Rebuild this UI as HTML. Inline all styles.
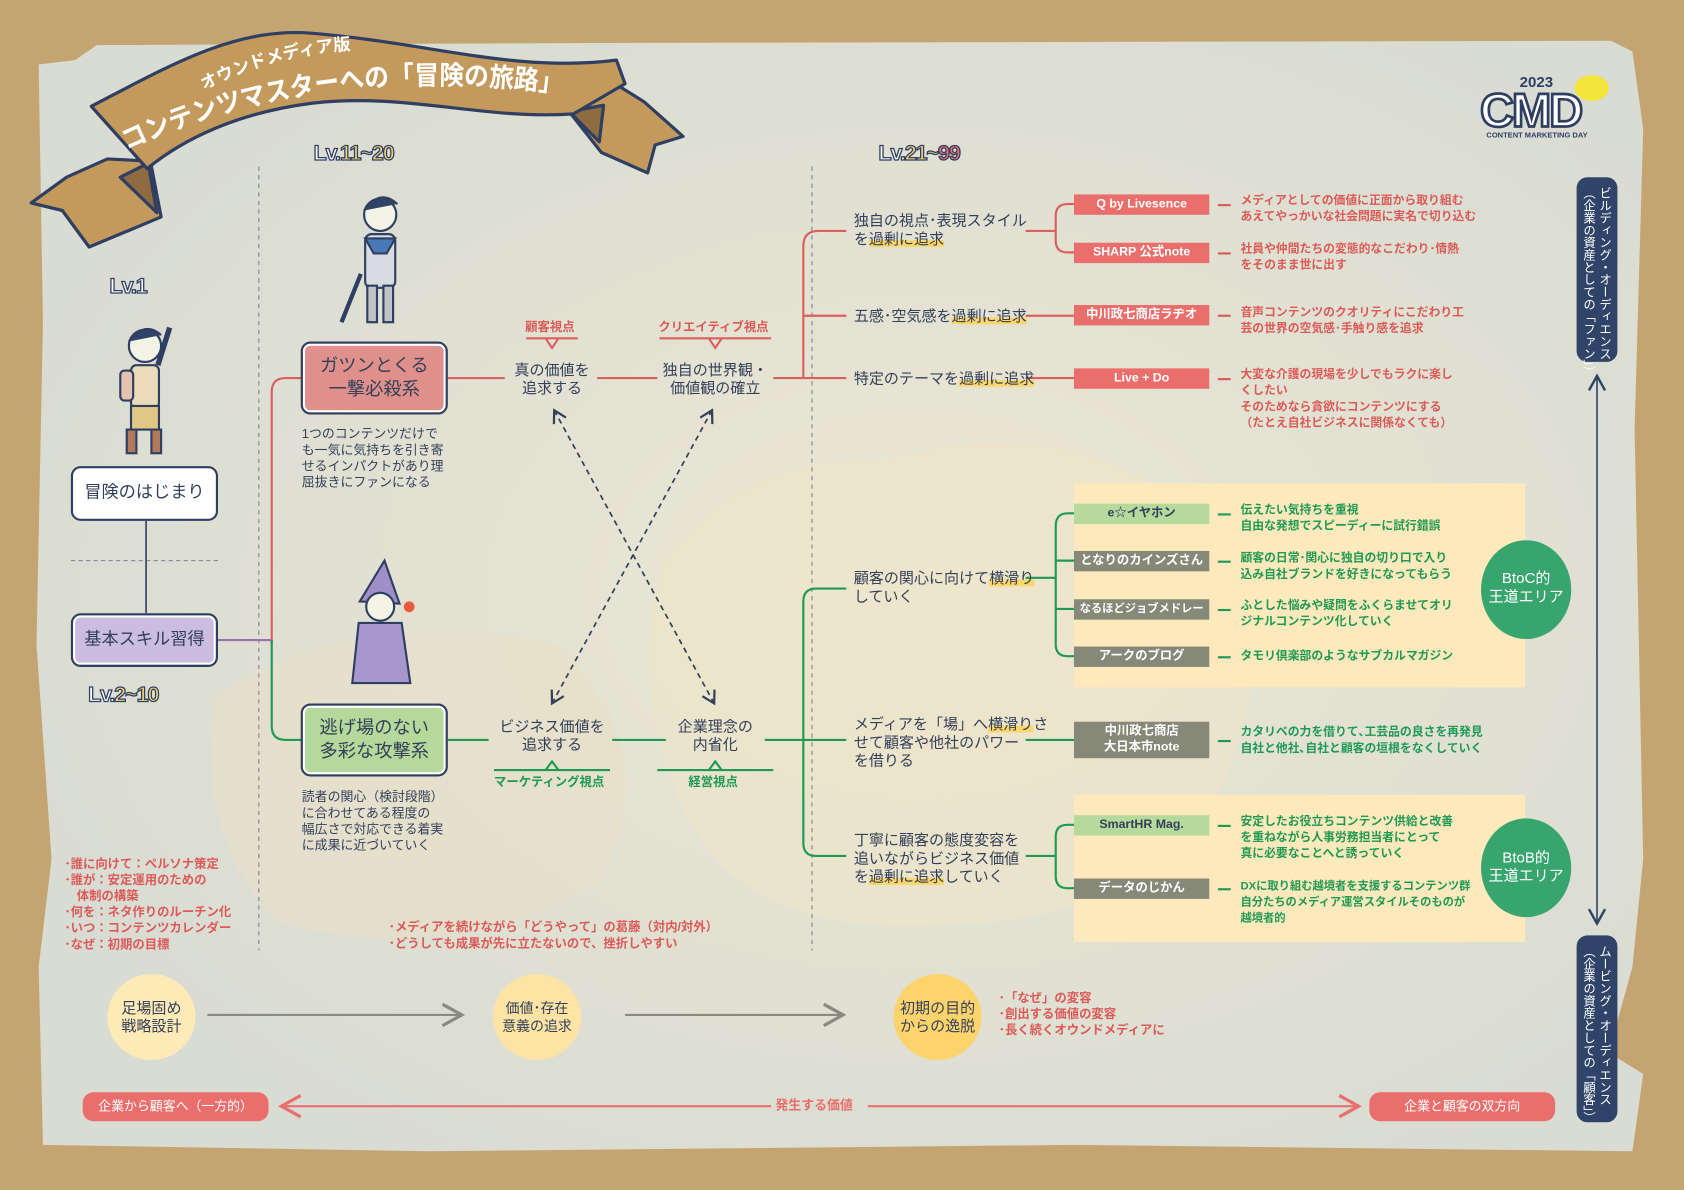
<!DOCTYPE html>
<html><head><meta charset="utf-8"><style>
*{margin:0;padding:0;box-sizing:border-box}
html,body{width:1684px;height:1190px;overflow:hidden;background:#c4a572}
#w{position:absolute;left:0;top:0;width:1568px;height:1108px;transform:scale(1.07398);transform-origin:0 0;font-family:"Liberation Sans","Noto Sans CJK JP",sans-serif;color:#34405a}
.a{position:absolute}
.t{position:absolute;white-space:nowrap;line-height:1.25}
.box{position:absolute;border:2px solid #2f3f62;border-radius:9px;box-shadow:inset 0 0 0 2px #fff;display:flex;align-items:center;justify-content:center;text-align:center;font-size:17px;line-height:1.3;color:#34405a}
.tag{position:absolute;left:1000px;width:126px;height:19px;color:#fff;font-size:11.5px;font-weight:bold;text-align:center;line-height:19px;white-space:nowrap;overflow:hidden}
.r{background:#ea6f6c}.g{background:#868878}.lg{background:#b6d99c;color:#34405a}
.d{position:absolute;left:1155px;font-size:11px;font-weight:bold;line-height:15px;white-space:nowrap}
.dr{color:#dc5a58}.dg{color:#1f9a55}
.dash{position:absolute;left:1134px;width:12px;height:2px}
.node{position:absolute;font-size:14px;text-align:center;line-height:17px;white-space:nowrap}
.rt{position:absolute;left:795px;font-size:14px;line-height:17px;white-space:nowrap}
.hl{background:linear-gradient(transparent 60%,#fbd66a 60%)}
.lv{position:absolute;font-weight:900;font-size:20px;color:#fff;-webkit-text-stroke:1.2px #2f3f62;letter-spacing:-1px}
.lv b{color:#f6d777}
</style></head><body><div id="w">
<svg class="a" style="left:0;top:0" width="1568" height="1108">
<defs>
<radialGradient id="pg" cx="55%" cy="50%" r="60%"><stop offset="0" stop-color="#ece7d2"/><stop offset="1" stop-color="#d9dcd3"/></radialGradient>
<marker id="ar" markerWidth="10" markerHeight="10" refX="8" refY="5" orient="auto-start-reverse"><path d="M1,1 L8,5 L1,9" fill="none" stroke="#34405a" stroke-width="1.3"/></marker>
<marker id="ag" markerWidth="12" markerHeight="12" refX="10" refY="6" orient="auto-start-reverse"><path d="M1,1 L10,6 L1,11" fill="none" stroke="#8a8a80" stroke-width="1.5"/></marker>
<marker id="arr" markerWidth="12" markerHeight="12" refX="10" refY="6" orient="auto-start-reverse"><path d="M1,1 L10,6 L1,11" fill="none" stroke="#e8706c" stroke-width="1.5"/></marker>
<marker id="an" markerWidth="12" markerHeight="12" refX="10" refY="6" orient="auto-start-reverse"><path d="M1,1 L10,6 L1,11" fill="none" stroke="#2f4468" stroke-width="1.5"/></marker>
<path id="tp1" d="M190,84 Q265,45 352,46"/>
<path id="tp2" d="M118,140 Q300,55 535,88"/>
</defs>
<path d="M36,60 L70,56 L90,42 L560,40 L1500,38 L1520,48 L1530,120 L1522,400 L1530,800 L1520,900 L1498,980 L1530,1000 L1520,1072 L1000,1066 L400,1072 L40,1066 L36,900 L48,800 L34,600 L40,300 Z" fill="url(#pg)"/>
<path d="M620,520 Q700,420 820,430 Q980,380 1100,470 Q1200,560 1150,700 Q1100,850 900,860 Q700,880 640,760 Q580,640 620,520Z" fill="#efe5c6" opacity=".55"/>
<path d="M200,650 Q330,560 520,600 Q620,700 560,820 Q420,900 260,860 Q180,780 200,650Z" fill="#e9e0c5" opacity=".5"/>
<!-- banner -->
<g stroke="#2f3f62" stroke-width="3" stroke-linejoin="round">
<path d="M100,148 L62,165 L29,189 L58,196 L83,230 L150,202 L140,150 Z" fill="#c49a5c"/>
<path d="M112,165 L138,152 L146,198 Z" fill="#8f6c40"/>
<path d="M560,70 L600,95 L636,127 L610,135 L603,161 L560,142 L530,104 Z" fill="#c49a5c"/>
<path d="M530,104 L562,98 L558,132 Z" fill="#8f6c40"/>
<path d="M85,99 C160,60 220,25 291,31 C400,40 480,68 574,56 L582,78 L534,106 C450,112 380,86 291,96 C220,105 170,130 137,157 Z" fill="#c49a5c"/>
</g>
<text font-size="16" fill="#fff" font-weight="bold"><textPath href="#tp1">オウンドメディア版</textPath></text>
<text font-size="25" fill="#fff" font-weight="bold" textLength="415" lengthAdjust="spacingAndGlyphs"><textPath href="#tp2" textLength="415" lengthAdjust="spacingAndGlyphs">コンテンツマスターへの「冒険の旅路」</textPath></text>
<line x1="241" y1="155" x2="241" y2="885" stroke="#7b8290" stroke-dasharray="4,4"/>
<line x1="756" y1="155" x2="756" y2="885" stroke="#7b8290" stroke-dasharray="4,4"/>
<line x1="66" y1="522" x2="203" y2="522" stroke="#7b8290" stroke-dasharray="4,3"/>
<line x1="136" y1="485" x2="136" y2="571" stroke="#2f3f62" stroke-width="1.5"/>
<line x1="203" y1="596" x2="253" y2="596" stroke="#9b6fb0" stroke-width="2"/>
<g fill="none" stroke="#db5f5d" stroke-width="2">
<path d="M253,600 L253,365 Q253,352 266,352 L282,352"/>
<line x1="417" y1="352" x2="470" y2="352"/><line x1="556" y1="352" x2="612" y2="352"/><line x1="720" y1="352" x2="748" y2="352"/>
<path d="M762,215 Q748,215 748,229 L748,352 L788,352 M748,294 L788,294 M762,215 L788,215"/>
<path d="M955,215 L983,215 M1000,190 L994,190 Q983,190 983,201 L983,224 Q983,235 994,235 L1000,235"/>
<line x1="955" y1="294" x2="1000" y2="294"/><line x1="955" y1="352" x2="1000" y2="352"/>
<path d="M490,315 L538,315 M508,315 L514,324 L520,315 M614,315 L718,315 M660,315 L666,324 L672,315"/>
</g>
<g fill="none" stroke="#1f9a55" stroke-width="2">
<path d="M253,596 L253,676 Q253,689 266,689 L282,689"/>
<line x1="417" y1="689" x2="455" y2="689"/><line x1="570" y1="689" x2="620" y2="689"/><line x1="712" y1="689" x2="788" y2="689"/>
<path d="M788,548 L760,548 Q748,548 748,560 L748,785 Q748,797 760,797 L788,797"/>
<path d="M460,717 L568,717 M508,717 L514,709 L520,717 M612,717 L720,717 M660,717 L666,709 L672,717"/>
</g>
<g stroke="#34405a" stroke-width="1.6" stroke-dasharray="5,4" fill="none" marker-start="url(#ar)" marker-end="url(#ar)">
<line x1="665" y1="655" x2="516" y2="382"/>
<line x1="514" y1="655" x2="663" y2="382"/>
</g>
<rect x="1000" y="450" width="420" height="190" fill="#fde9bb"/>
<rect x="1000" y="740" width="420" height="137" fill="#fde9bb"/>
<g fill="none" stroke="#1f9a55" stroke-width="2">
<path d="M955,538 L983,538 M1000,478 L994,478 Q983,478 983,490 L983,600 Q983,611 994,611 L1000,611 M983,522 L1000,522 M983,567 L1000,567"/>
<line x1="955" y1="689" x2="1000" y2="689"/>
<path d="M955,797 L983,797 M1000,768 L994,768 Q983,768 983,779 L983,816 Q983,827 994,827 L1000,827"/>
</g>
<ellipse cx="1421" cy="549" rx="42" ry="46" fill="#38a56e"/>
<ellipse cx="1421" cy="808" rx="42" ry="46" fill="#38a56e"/>
<line x1="1487" y1="350" x2="1487" y2="860" stroke="#2f4468" stroke-width="1.5" marker-start="url(#an)" marker-end="url(#an)"/>
<rect x="1468" y="165" width="38" height="172" rx="10" fill="#2f4468"/>
<rect x="1468" y="871" width="38" height="174" rx="10" fill="#2f4468"/>
<ellipse cx="141" cy="947" rx="41" ry="40" fill="#fdeab6"/>
<ellipse cx="500" cy="947" rx="41" ry="40" fill="#fde4a4"/>
<ellipse cx="873" cy="947" rx="41" ry="40" fill="#fdd36c"/>
<line x1="193" y1="945" x2="430" y2="945" stroke="#8a8a80" stroke-width="2" marker-end="url(#ag)"/>
<line x1="582" y1="945" x2="785" y2="945" stroke="#8a8a80" stroke-width="2" marker-end="url(#ag)"/>
<line x1="262" y1="1030" x2="718" y2="1030" stroke="#e8706c" stroke-width="2" marker-start="url(#arr)"/>
<line x1="808" y1="1030" x2="1265" y2="1030" stroke="#e8706c" stroke-width="2" marker-end="url(#arr)"/>
<rect x="77" y="1017" width="173" height="27" rx="10" fill="#ea6f6c"/>
<rect x="1275" y="1017" width="173" height="27" rx="10" fill="#ea6f6c"/>
<g stroke="#2f3f62" stroke-width="2">
<circle cx="354" cy="200" r="15" fill="#f3f4e6"/><path d="M339,196 Q354,175 370,190" fill="#2f4468"/><rect x="340" y="218" width="28" height="50" rx="6" fill="#d8dbe0"/><path d="M340,222 L368,222 L360,236 L348,236Z" fill="#4a79b8"/><rect x="342" y="266" width="9" height="34" fill="#bfc3c8"/><rect x="357" y="266" width="9" height="34" fill="#bfc3c8"/><line x1="336" y1="255" x2="318" y2="300" stroke-width="4"/>
<circle cx="135" cy="322" r="15" fill="#f3f4e6"/><path d="M120,318 Q135,298 150,312" fill="#2f4468"/><rect x="122" y="340" width="26" height="40" rx="5" fill="#eadcb8"/><rect x="112" y="345" width="12" height="28" rx="4" fill="#e2c4b0"/><rect x="122" y="378" width="26" height="22" fill="#e1c784"/><rect x="118" y="400" width="9" height="22" fill="#b07a5a"/><rect x="141" y="400" width="9" height="22" fill="#b07a5a"/><line x1="147" y1="340" x2="158" y2="305" stroke-width="5"/>
<path d="M335,560 L358,522 L372,562Z" fill="#9f8ec8"/><circle cx="354" cy="565" r="13" fill="#f3f4e6"/><path d="M334,580 L374,580 L382,636 L328,636Z" fill="#a697cc"/><circle cx="381" cy="565" r="5" fill="#e85a3a" stroke="none"/>
</g>
</svg>
<div class="t" style="left:1415px;top:68px;font-size:14px;font-weight:900;color:#2f3f62">2023</div>
<div class="t" style="left:1378px;top:76px;font-size:44px;font-weight:900;color:#fff;-webkit-text-stroke:2.5px #2f3f62;letter-spacing:-2px">CMD</div>
<div class="t" style="left:1384px;top:123px;font-size:7px;font-weight:bold;color:#2f3f62">CONTENT MARKETING DAY</div>
<div class="a" style="left:1466px;top:70px;width:32px;height:24px;background:#f3e53a;border-radius:50%"></div>
<div class="lv" style="left:102px;top:256px">Lv.1</div>
<div class="lv" style="left:292px;top:132px">Lv.<b>11~20</b></div>
<div class="lv" style="left:818px;top:132px">Lv.<b>21~</b><b style="color:#ea6f6c">99</b></div>
<div class="lv" style="left:82px;top:636px">Lv.<b>2~10</b></div>
<div class="box" style="left:66px;top:434px;width:137px;height:51px;background:#fff;font-size:16px">冒険のはじまり</div>
<div class="box" style="left:66px;top:571px;width:137px;height:50px;background:#cbbde0;font-size:16px">基本スキル習得</div>
<div class="box" style="left:280px;top:318px;width:137px;height:68px;background:#e0908a">ガツンとくる<br>一撃必殺系</div>
<div class="box" style="left:280px;top:655px;width:137px;height:68px;background:#b5d99a">逃げ場のない<br>多彩な攻撃系</div>
<div class="t" style="left:281px;top:397px;font-size:12px;line-height:15px">1つのコンテンツだけで<br>も一気に気持ちを引き寄<br>せるインパクトがあり理<br>屈抜きにファンになる</div>
<div class="t" style="left:281px;top:735px;font-size:12px;line-height:15px">読者の関心（検討段階）<br>に合わせてある程度の<br>幅広さで対応できる着実<br>に成果に近づいていく</div>
<div class="t" style="left:489px;top:298px;font-size:11.5px;font-weight:bold;color:#dc5a58">顧客視点</div>
<div class="t" style="left:613px;top:298px;font-size:11.5px;font-weight:bold;color:#dc5a58">クリエイティブ視点</div>
<div class="node" style="left:474px;top:336px;width:80px">真の価値を<br>追求する</div>
<div class="node" style="left:612px;top:336px;width:108px">独自の世界観・<br>価値観の確立</div>
<div class="node" style="left:458px;top:668px;width:112px">ビジネス価値を<br>追求する</div>
<div class="node" style="left:620px;top:668px;width:92px">企業理念の<br>内省化</div>
<div class="t" style="left:460px;top:722px;font-size:11.5px;font-weight:bold;color:#1f9a55">マーケティング視点</div>
<div class="t" style="left:641px;top:722px;font-size:11.5px;font-weight:bold;color:#1f9a55">経営視点</div>
<div class="rt" style="top:197px">独自の視点･表現スタイル<br>を<span class="hl">過剰に追求</span></div>
<div class="rt" style="top:286px">五感･空気感を<span class="hl">過剰に追求</span></div>
<div class="rt" style="top:344px">特定のテーマを<span class="hl">過剰に追求</span></div>
<div class="rt" style="top:530px">顧客の関心に向けて<span class="hl">横滑り</span><br>していく</div>
<div class="rt" style="top:666px">メディアを「場」へ<span class="hl">横滑り</span>さ<br>せて顧客や他社のパワー<br>を借りる</div>
<div class="rt" style="top:774px">丁寧に顧客の態度変容を<br>追いながらビジネス価値<br>を<span class="hl">過剰に追求</span>していく</div>
<div class="tag r" style="top:181px">Q by Livesence</div>
<div class="tag r" style="top:226px">SHARP 公式note</div>
<div class="tag r" style="top:284px">中川政七商店ラヂオ</div>
<div class="tag r" style="top:343px">Live + Do</div>
<div class="tag lg" style="top:469px">e☆イヤホン</div>
<div class="tag g" style="top:513px">となりのカインズさん</div>
<div class="tag g" style="top:558px;font-size:10.5px">なるほどジョブメドレー</div>
<div class="tag g" style="top:602px">アークのブログ</div>
<div class="tag g" style="top:672px;height:34px;line-height:15px;padding-top:2px">中川政七商店<br>大日本市note</div>
<div class="tag lg" style="top:759px">SmartHR Mag.</div>
<div class="tag g" style="top:818px">データのじかん</div>
<div class="dash" style="top:190px;background:#dc5a58"></div>
<div class="dash" style="top:235px;background:#dc5a58"></div>
<div class="dash" style="top:293px;background:#dc5a58"></div>
<div class="dash" style="top:352px;background:#dc5a58"></div>
<div class="dash" style="top:478px;background:#1f9a55"></div>
<div class="dash" style="top:522px;background:#1f9a55"></div>
<div class="dash" style="top:567px;background:#1f9a55"></div>
<div class="dash" style="top:611px;background:#1f9a55"></div>
<div class="dash" style="top:689px;background:#1f9a55"></div>
<div class="dash" style="top:768px;background:#1f9a55"></div>
<div class="dash" style="top:827px;background:#1f9a55"></div>
<div class="d dr" style="top:180px">メディアとしての価値に正面から取り組む<br>あえてやっかいな社会問題に実名で切り込む</div>
<div class="d dr" style="top:225px">社員や仲間たちの変態的なこだわり･情熱<br>をそのまま世に出す</div>
<div class="d dr" style="top:284px">音声コンテンツのクオリティにこだわり工<br>芸の世界の空気感･手触り感を追求</div>
<div class="d dr" style="top:342px">大変な介護の現場を少しでもラクに楽し<br>くしたい<br>そのためなら貪欲にコンテンツにする<br>（たとえ自社ビジネスに関係なくても）</div>
<div class="d dg" style="top:468px">伝えたい気持ちを重視<br>自由な発想でスピーディーに試行錯誤</div>
<div class="d dg" style="top:513px">顧客の日常･関心に独自の切り口で入り<br>込み自社ブランドを好きになってもらう</div>
<div class="d dg" style="top:557px">ふとした悩みや疑問をふくらませてオリ<br>ジナルコンテンツ化していく</div>
<div class="d dg" style="top:604px">タモリ倶楽部のようなサブカルマガジン</div>
<div class="d dg" style="top:675px">カタリベの力を借りて､工芸品の良さを再発見<br>自社と他社､自社と顧客の垣根をなくしていく</div>
<div class="d dg" style="top:758px">安定したお役立ちコンテンツ供給と改善<br>を重ねながら人事労務担当者にとって<br>真に必要なことへと誘っていく</div>
<div class="d dg" style="top:818px;font-size:10.5px">DXに取り組む越境者を支援するコンテンツ群<br>自分たちのメディア運営スタイルそのものが<br>越境者的</div>
<div class="t" style="left:1385px;top:530px;width:72px;text-align:center;color:#fff;font-size:14px;line-height:17px">BtoC的<br>王道エリア</div>
<div class="t" style="left:1385px;top:790px;width:72px;text-align:center;color:#fff;font-size:14px;line-height:17px">BtoB的<br>王道エリア</div>
<div class="t" style="left:1471px;top:174px;writing-mode:vertical-rl;color:#fff;font-size:11.5px;line-height:15px">ビルディング・オーディエンス<br>（企業の資産としての「ファン」）</div>
<div class="t" style="left:1471px;top:880px;writing-mode:vertical-rl;color:#fff;font-size:11.5px;line-height:15px">ムービング・オーディエンス<br>（企業の資産としての「顧客」）</div>
<div class="t" style="left:60px;top:798px;font-size:11.5px;font-weight:bold;color:#dc5a58;line-height:15px">･誰に向けて：ペルソナ策定<br>･誰が：安定運用のための<br>　体制の構築<br>･何を：ネタ作りのルーチン化<br>･いつ：コンテンツカレンダー<br>･なぜ：初期の目標</div>
<div class="t" style="left:362px;top:857px;font-size:11.5px;font-weight:bold;color:#dc5a58;line-height:15px">･メディアを続けながら「どうやって」の葛藤（対内/対外）<br>･どうしても成果が先に立たないので、挫折しやすい</div>
<div class="t" style="left:930px;top:923px;font-size:11.5px;font-weight:bold;color:#dc5a58;line-height:15px">･「なぜ」の変容<br>･創出する価値の変容<br>･長く続くオウンドメディアに</div>
<div class="node" style="left:103px;top:930px;width:76px">足場固め<br>戦略設計</div>
<div class="node" style="left:462px;top:930px;width:76px;font-size:13px">価値･存在<br>意義の追求</div>
<div class="node" style="left:835px;top:930px;width:76px">初期の目的<br>からの逸脱</div>
<div class="t" style="left:77px;top:1023px;width:173px;text-align:center;color:#fff;font-size:12px">企業から顧客へ（一方的）</div>
<div class="t" style="left:1275px;top:1023px;width:173px;text-align:center;color:#fff;font-size:12px">企業と顧客の双方向</div>
<div class="t" style="left:722px;top:1022px;font-size:12px;font-weight:bold;color:#ea6f6c">発生する価値</div>
</div></body></html>
